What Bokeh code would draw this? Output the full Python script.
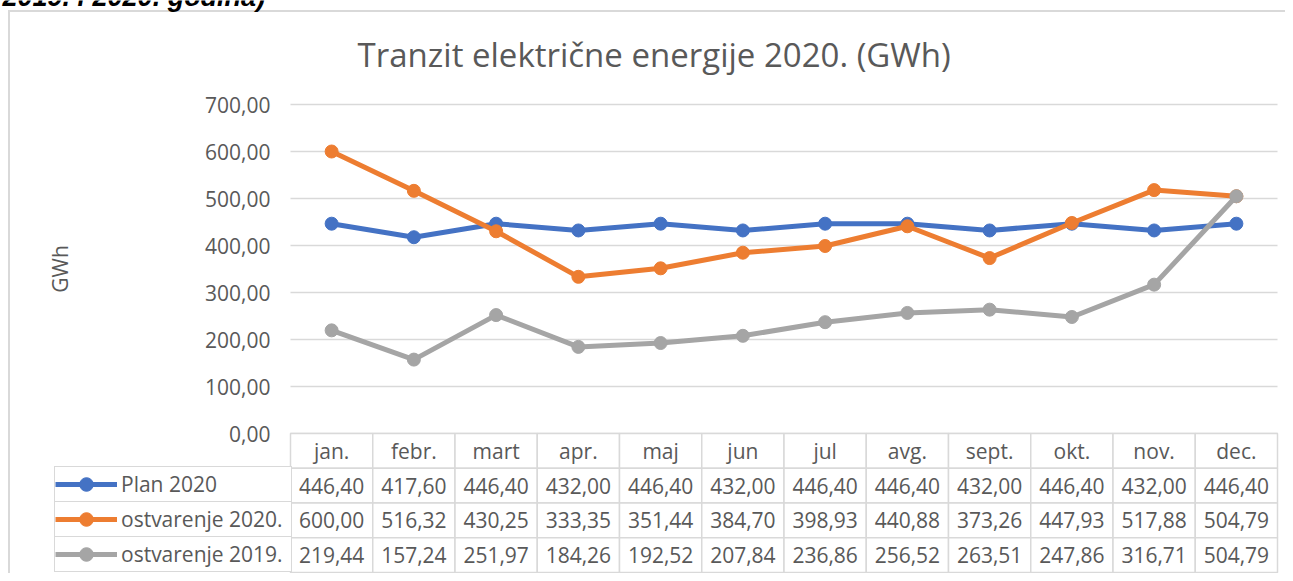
from bokeh.plotting import figure
from bokeh.models import (ColumnDataSource, Range1d, FixedTicker, CustomJSTickFormatter,
                          Legend, LegendItem)
from bokeh.core.properties import value
from bokeh.embed import file_html
from bokeh.resources import INLINE

# ---------------- data ----------------
months = ["jan.", "febr.", "mart", "apr.", "maj", "jun", "jul", "avg.", "sept.", "okt.", "nov.", "dec."]
plan_2020 = [446.40, 417.60, 446.40, 432.00, 446.40, 432.00, 446.40, 446.40, 432.00, 446.40, 432.00, 446.40]
ostvarenje_2020 = [600.00, 516.32, 430.25, 333.35, 351.44, 384.70, 398.93, 440.88, 373.26, 447.93, 517.88, 504.79]
ostvarenje_2019 = [219.44, 157.24, 251.97, 184.26, 192.52, 207.84, 236.86, 256.52, 263.51, 247.86, 316.71, 504.79]
series_names = ["Plan 2020", "ostvarenje 2020.", "ostvarenje 2019."]
series_colors = ["#4472C4", "#ED7D31", "#A5A5A5"]
y_ticks = [0, 100, 200, 300, 400, 500, 600, 700]
title_text = "Tranzit električne energije 2020.  (GWh)"
y_title = "GWh"
heading_text = "2019. i 2020. godina)"

# ---------------- layout constants (canvas px) ----------------
W, H = 1285, 573
COL_W = 82.25               # px per month column
X0 = 290                    # x of first month column
LEG_L = 54                  # x of legend column
X_END = 1277                # right end of table / grid
ZERO_Y = 433                # y of value 0
PX = 0.47                   # px per GWh
TBL_BOT = 572               # table bottom
ROW_H = (TBL_BOT - ZERO_Y) / 4.0
TXT = "#595959"
LINE = "#d9d9d9"
FONT = "Open Sans"

def fmt(v):
    return f"{v:.2f}".replace(".", ",")

def xd(px):      # canvas x -> data x
    return (px - X0) / COL_W

def yd(py):      # canvas y -> data y (GWh)
    return (ZERO_Y - py) / PX

p = figure(width=W, height=H,
           x_range=Range1d(xd(0), xd(W)), y_range=Range1d(yd(H), yd(0)),
           output_backend="svg", toolbar_location=None,
           min_border_left=0, min_border_right=0, min_border_top=0, min_border_bottom=0)
p.extra_y_ranges = {"tbl": Range1d(-(H - TBL_BOT) / ROW_H, TBL_BOT / ROW_H)}
p.background_fill_alpha = 0
p.border_fill_alpha = 0
p.outline_line_color = None
p.title.visible = False
p.styles = {"background": ("linear-gradient(#d9d9d9,#d9d9d9) 8px 10px / 2px 100% no-repeat, "
                           "linear-gradient(#d9d9d9,#d9d9d9) 8px 10px / 100% 2px no-repeat")}

month_x = [i + 0.5 for i in range(len(months))]

# ---------------- grid & axis ----------------
p.xaxis.visible = False
p.xgrid.visible = False
yg = p.ygrid[0]
if "cross_bounds" in yg.properties():
    yg.ticker = FixedTicker(ticks=y_ticks)
    yg.cross_bounds = (0, len(months))
    yg.grid_line_color = LINE
    yg.grid_line_width = 1.5
else:
    yg.visible = False
    p.segment(x0=0, x1=len(months), y0=y_ticks, y1=y_ticks, line_color=LINE, line_width=1.5)

yax = p.yaxis[0]
yax.fixed_location = 0
yax.ticker = FixedTicker(ticks=y_ticks)
yax.bounds = (0, 700)
yax.formatter = CustomJSTickFormatter(code="return tick.toFixed(2).replace('.', ',');")
yax.axis_line_color = None
yax.major_tick_line_color = None
yax.minor_tick_line_color = None
yax.major_label_standoff = 14
yax.major_label_text_font = FONT
yax.major_label_text_font_size = "21px"
yax.major_label_text_color = TXT
yax.axis_label = y_title
yax.axis_label_standoff = 128
yax.axis_label_text_font = FONT
yax.axis_label_text_font_size = "21px"
yax.axis_label_text_font_style = "normal"
yax.axis_label_text_color = TXT

# ---------------- data table ----------------
series_vals = [plan_2020, ostvarenje_2020, ostvarenje_2019]
cx, cy, ct = [], [], []
for i, m in enumerate(months):
    cx.append(month_x[i]); cy.append(3.5); ct.append(m)
    for r, vals in enumerate(series_vals):
        cx.append(month_x[i]); cy.append(2.5 - r); ct.append(fmt(vals[i]))
cells = ColumnDataSource(dict(x=cx, y=cy, t=ct))
p.rect(x="x", y="y", width=1, height=1, source=cells, y_range_name="tbl",
       fill_color="white", line_color=LINE, line_width=1.5)
p.text(x="x", y="y", text="t", source=cells, y_range_name="tbl",
       text_align="center", text_baseline="middle",
       text_font=value(FONT), text_font_size=value("21px"), text_color=TXT)

# ---------------- series ----------------
items = []
for name, vals, col in zip(series_names, series_vals, series_colors):
    src = ColumnDataSource(dict(x=month_x, v=vals))
    ln = p.line("x", "v", source=src, line_color=col, line_width=5)
    sc = p.scatter("x", "v", source=src, size=13, fill_color=col, line_color=col)
    items.append(LegendItem(label=name, renderers=[ln, sc]))

legend = Legend(items=items, location=(LEG_L, H - TBL_BOT), orientation="vertical",
                padding=0, spacing=1, margin=0,
                glyph_width=62, glyph_height=34, label_height=34,
                label_width=(X0 - LEG_L) - 62 - 4, label_standoff=4,
                label_text_font=FONT, label_text_font_size="21px", label_text_color=TXT,
                border_line_color=LINE, border_line_width=1.5,
                background_fill_color=LINE, background_fill_alpha=1,
                item_background_policy="every",
                item_background_fill_color="white", item_background_fill_alpha=1)
p.add_layout(legend)

# ---------------- texts ----------------
p.text(x=[xd(658)], y=[yd(54)], text=[title_text], text_align="center",
       text_baseline="alphabetic", text_font=value(FONT), text_font_size=value("33px"),
       text_color=TXT)
p.text(x=[xd(2)], y=[yd(-4)], text=[heading_text], text_align="left",
       text_baseline="alphabetic", text_font=value("Liberation Sans"),
       text_font_style="bold italic", text_font_size=value("27px"), text_color="black")

open("out.html", "w").write(file_html(p, INLINE))
